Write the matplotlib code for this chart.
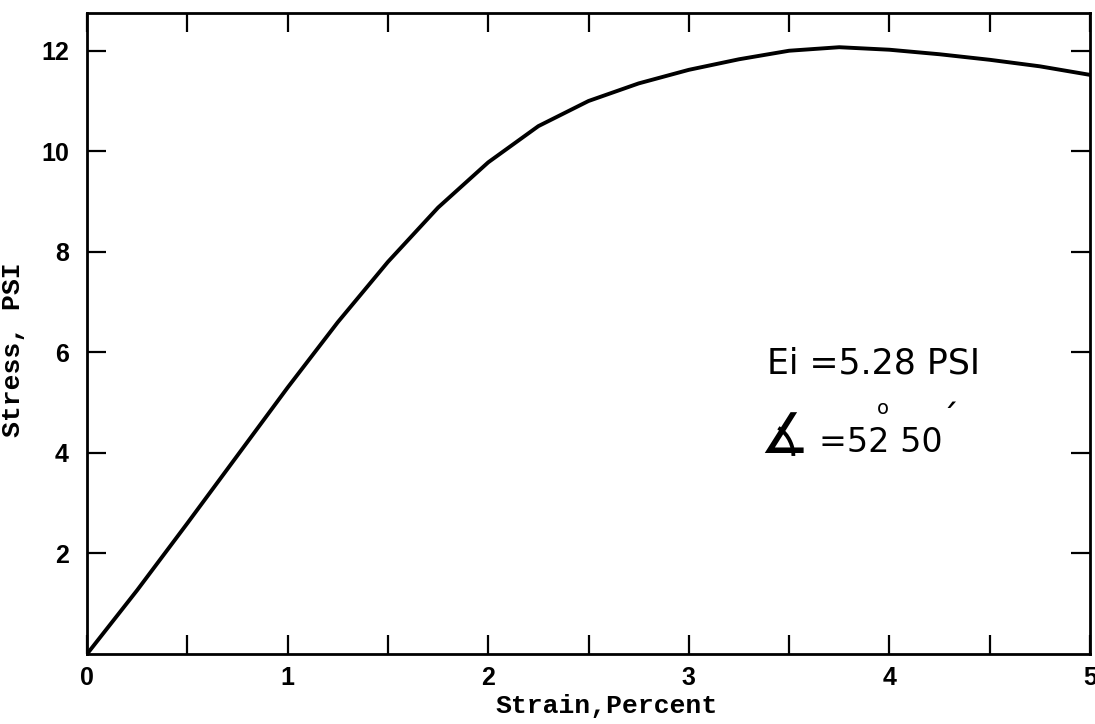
import numpy as np
import matplotlib.pyplot as plt
from matplotlib.ticker import MultipleLocator, FuncFormatter

# Curva tensao-deformacao (lida a cada 0.25 %)
strain = [0.0, 0.25, 0.5, 0.75, 1.0, 1.25, 1.5, 1.75, 2.0, 2.25,
          2.5, 2.75, 3.0, 3.25, 3.5, 3.75, 4.0, 4.25, 4.5, 4.75, 5.0]
stress = [0.0, 1.27, 2.6, 3.95, 5.3, 6.6, 7.8, 8.88, 9.78, 10.5,
          11.0, 11.35, 11.62, 11.83, 12.0, 12.07, 12.02, 11.93, 11.82, 11.69, 11.52]

x_ticks_lbl = [0, 1, 2, 3, 4, 5]
y_ticks = [2, 4, 6, 8, 10, 12]

modulo_txt = "Ei =5.28 PSI"
angulo_txt = "=52 50"

fig = plt.figure(figsize=(10.95, 7.24), dpi=100)
ax = fig.add_axes([0.0795, 0.0967, 0.9159, 0.8853])

ax.plot(strain, stress, color="black", linewidth=2.8,
        solid_capstyle="round", solid_joinstyle="round")

ax.set_xlim(0, 5)
ax.set_ylim(0, 12.75)

# eixo x: marcas a cada 0.5, rotulos so nos inteiros
ax.xaxis.set_major_locator(MultipleLocator(0.5))
ax.xaxis.set_major_formatter(FuncFormatter(
    lambda v, p: f"{int(round(v))}" if abs(v - round(v)) < 1e-6 and int(round(v)) in x_ticks_lbl else ""))
ax.set_yticks(y_ticks)

ax.tick_params(axis="both", which="major", direction="in", length=14, width=1.6,
               top=True, right=True, labelsize=18)
ax.tick_params(axis="x", pad=9)
ax.tick_params(axis="y", pad=13)
for lbl in ax.get_xticklabels() + ax.get_yticklabels():
    lbl.set_fontfamily("Liberation Sans")
    lbl.set_fontweight("bold")

for s in ax.spines.values():
    s.set_linewidth(2.0)

ax.set_xlabel("Strain,Percent", family="Liberation Mono", fontweight="bold", fontsize=19)
ax.set_ylabel("Stress, PSI", family="Liberation Mono", fontweight="bold", fontsize=19)
ax.xaxis.set_label_coords(0.518, -0.062)
ax.yaxis.set_label_coords(-0.062, 0.475)

# anotacao do modulo inicial e do angulo
ax.text(3.39, 5.57, modulo_txt, fontsize=25, family="DejaVu Sans", ha="left", va="baseline")
ax.text(3.35, 4.0, "∡", fontsize=40, family="DejaVu Sans", ha="left", va="baseline")
ax.text(3.65, 4.02, angulo_txt, fontsize=24, family="DejaVu Sans", ha="left", va="baseline")
ax.text(3.97, 4.78, "o", fontsize=14, family="DejaVu Sans", ha="center", va="baseline")
ax.text(4.30, 4.45, "´", fontsize=26, family="DejaVu Sans", ha="center", va="baseline")

fig.savefig("out.png", dpi=100)
